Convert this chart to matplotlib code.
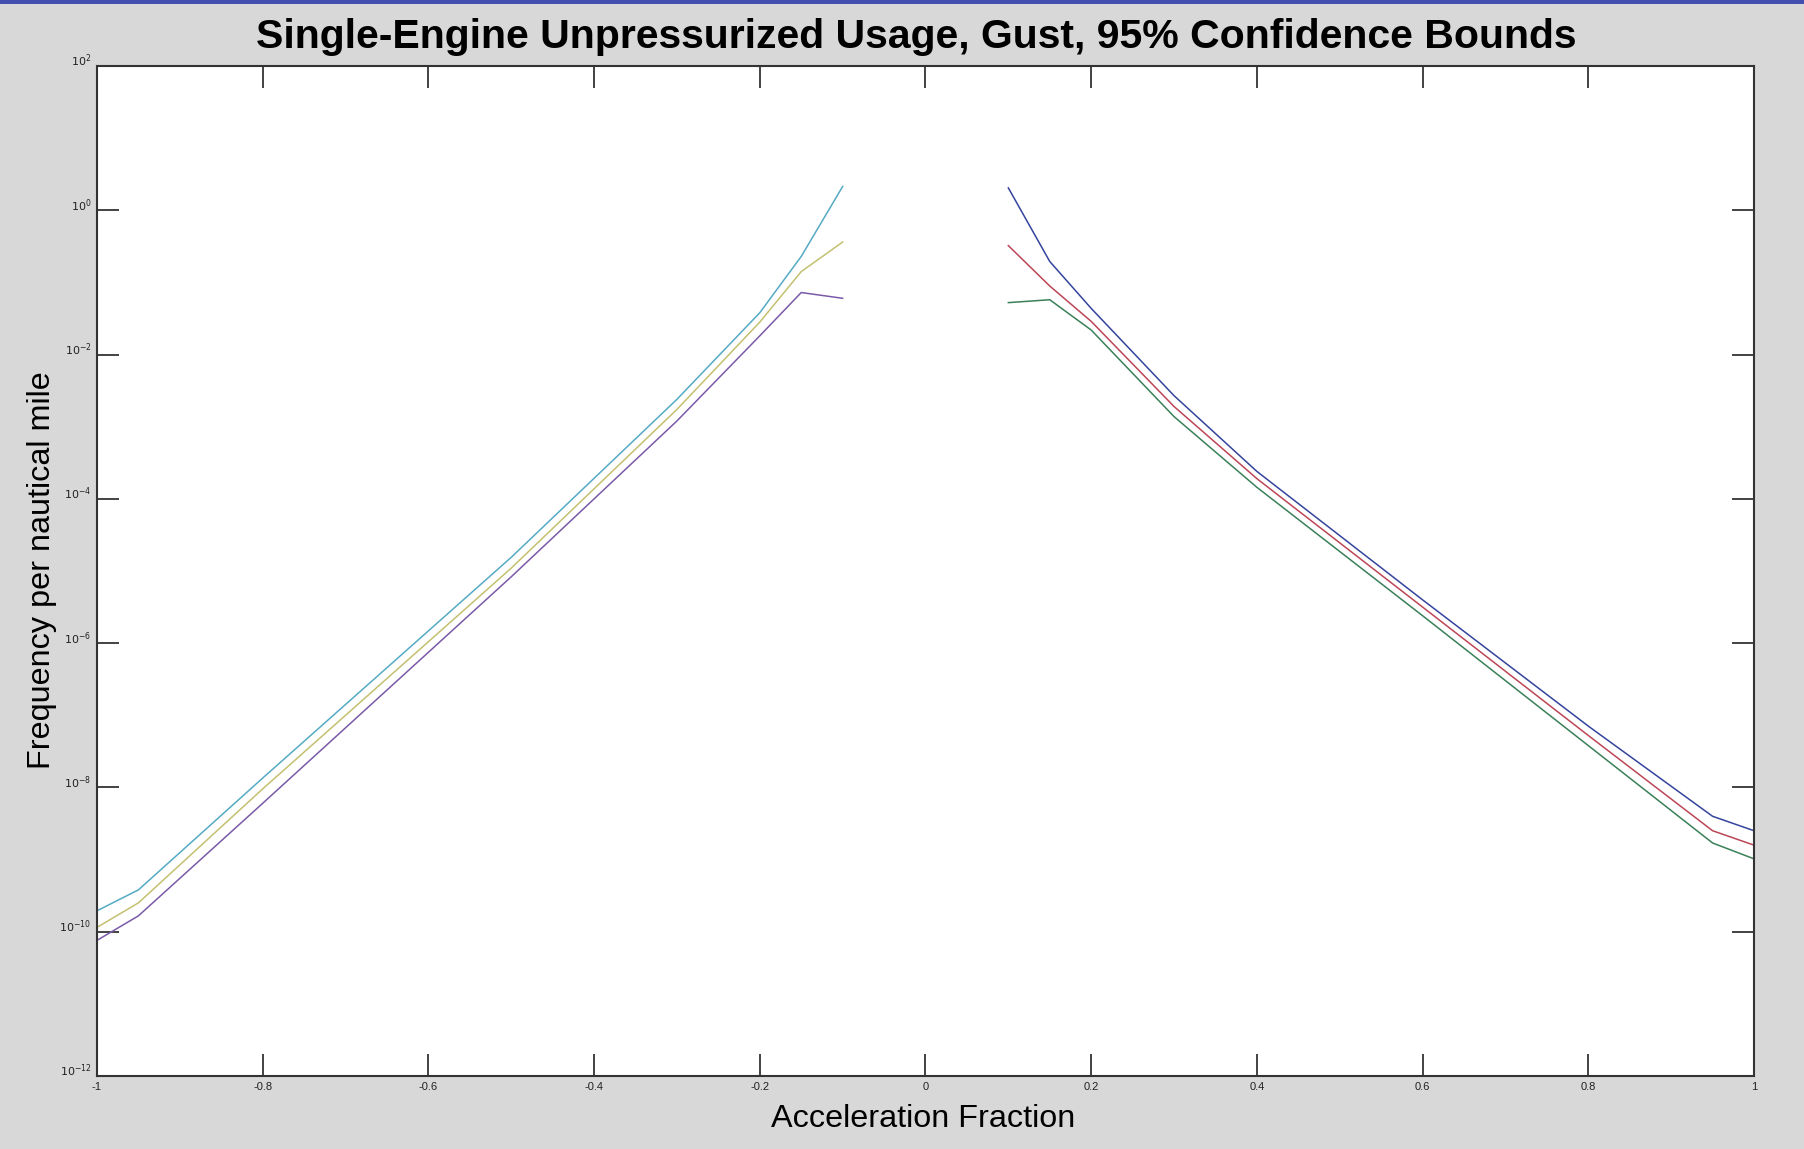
import numpy as np
import matplotlib
matplotlib.use("Agg")
import matplotlib.pyplot as plt
from matplotlib.patches import Rectangle

plt.rcParams['font.family'] = ['Liberation Sans', 'DejaVu Sans']

# negative side (log10 of frequency per nm)
x_neg = [-1.0, -0.95, -0.8, -0.5, -0.3, -0.2, -0.15, -0.1]
neg_upper = [-9.71, -9.42, -7.87, -4.81, -2.62, -1.42, -0.64, 0.33]
neg_mid = [-9.94, -9.60, -8.02, -4.96, -2.76, -1.55, -0.85, -0.44]
neg_lower = [-10.12, -9.78, -8.22, -5.08, -2.92, -1.74, -1.14, -1.22]

# positive side
x_pos = [0.1, 0.15, 0.2, 0.3, 0.4, 0.6, 0.8, 0.95, 1.0]
pos_upper = [0.31, -0.71, -1.36, -2.57, -3.62, -5.40, -7.15, -8.40, -8.60]
pos_mid = [-0.49, -1.05, -1.54, -2.72, -3.72, -5.50, -7.28, -8.60, -8.80]
pos_lower = [-1.28, -1.24, -1.66, -2.86, -3.84, -5.62, -7.42, -8.77, -8.99]

xticks = [-1, -0.8, -0.6, -0.4, -0.2, 0, 0.2, 0.4, 0.6, 0.8, 1]
xticklabels = ['-1', '-0.8', '-0.6', '-0.4', '-0.2', '0', '0.2', '0.4', '0.6', '0.8', '1']
yexps = [-12, -10, -8, -6, -4, -2, 0, 2]

fig = plt.figure(figsize=(18.04, 11.49), dpi=100, facecolor='#d8d8d8')
ax = fig.add_axes([97/1804, 1 - 1076/1149, 1657/1804, 1010/1149])
ax.set_facecolor('white')

lw = 1.1
ax.semilogy(x_neg, 10.0 ** np.array(neg_upper), color='#55aac4', lw=lw)
ax.semilogy(x_neg, 10.0 ** np.array(neg_mid), color='#c4c070', lw=lw)
ax.semilogy(x_neg, 10.0 ** np.array(neg_lower), color='#7a5aa8', lw=lw)
ax.semilogy(x_pos, 10.0 ** np.array(pos_upper), color='#34449c', lw=lw)
ax.semilogy(x_pos, 10.0 ** np.array(pos_mid), color='#bc4656', lw=lw)
ax.semilogy(x_pos, 10.0 ** np.array(pos_lower), color='#3a8058', lw=lw)

ax.set_xlim(-1, 1)
ax.set_ylim(1e-12, 1e2)
ax.set_xticks(xticks)
ax.set_xticklabels(xticklabels, fontsize=8)
ax.set_yticks([10.0 ** e for e in yexps])
ax.set_yticklabels(['$10^{%d}$' % e for e in yexps], fontsize=8)
for lbl in ax.get_yticklabels():
    lbl.set_va('baseline')
ax.minorticks_off()
ax.tick_params(direction='in', length=16, width=1.2, top=True, right=True,
               colors='#222222', pad=4)
for s in ax.spines.values():
    s.set_linewidth(1.5)
    s.set_color('#333333')

fig.text(916/1804, 1 - 37/1149,
         'Single-Engine Unpressurized Usage, Gust, 95% Confidence Bounds',
         ha='center', va='center', fontsize=29.5, fontweight='bold')
fig.text(42/1804, 1 - 570/1149, 'Frequency per nautical mile',
         ha='center', va='center', rotation=90, fontsize=23.3)
fig.text(923/1804, 1 - 1119/1149, 'Acceleration Fraction',
         ha='center', va='center', fontsize=23.3)

# blue band along the top edge
fig.add_artist(Rectangle((0, 1 - 4/1149), 1, 4/1149, transform=fig.transFigure,
                         color='#4450b0', lw=0))

fig.savefig('out.png', dpi=100, facecolor=fig.get_facecolor())
